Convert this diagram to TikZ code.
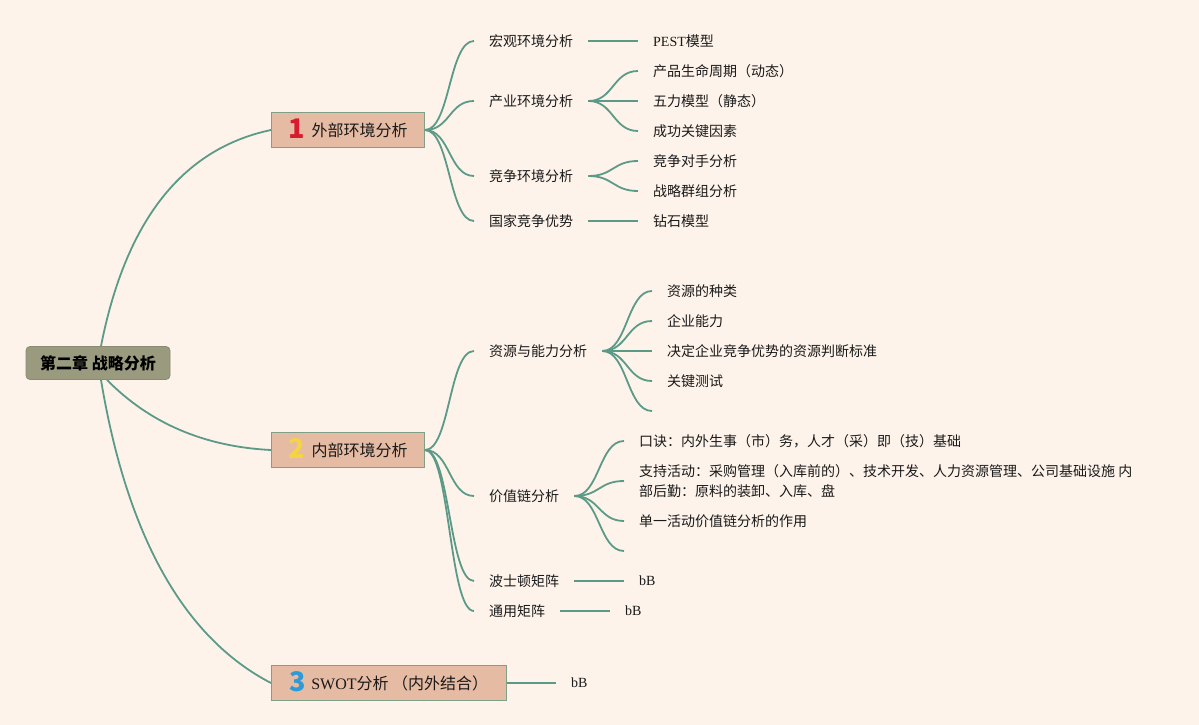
\documentclass[tikz,border=0pt]{standalone}
\usepackage{fontspec}
\setmainfont{Noto Sans CJK SC}
\newfontfamily\lat{Liberation Serif}
\definecolor{bgc}{HTML}{FDF3EA}
\definecolor{linec}{HTML}{5C9A88}
\definecolor{rootfill}{HTML}{999A7E}
\definecolor{rootbord}{HTML}{8A8B70}
\definecolor{brfill}{HTML}{E6BBA4}
\definecolor{brbord}{HTML}{7FA088}
\definecolor{txt}{HTML}{1A1A1A}
\definecolor{nred}{HTML}{D81B2E}
\definecolor{nyel}{HTML}{F5D442}
\definecolor{nblu}{HTML}{2D9BD8}
\newcommand{\bignum}[2]{\smash{\raisebox{-2pt}{\bfseries\fontsize{27}{27}\selectfont\color{#1}#2}}}
\begin{document}
\begin{tikzpicture}[x=1pt,y=-1pt,
  conn/.style={draw=linec, line width=1.8pt},
  leaf/.style={anchor=west, inner xsep=15pt, inner ysep=2pt, text=txt,
    font=\fontsize{14}{20}\selectfont},
  branch/.style={draw=brbord, fill=brfill, line width=1pt, anchor=west,
    minimum height=35pt, inner xsep=0pt, text=txt, font=\fontsize{16}{18}\selectfont},
  rootbox/.style={draw=rootbord, fill=rootfill, line width=0.8pt, rounded corners=4pt,
    minimum width=144pt, minimum height=33pt, inner xsep=0pt, text=black,
    font=\fontsize{16}{18}\selectfont\bfseries}]
\fill[bgc] (0,0) rectangle (1199,725);
\useasboundingbox (0,0) rectangle (1199,725);

% root and branches
\node[rootbox] (root) at (98,363) {第二章 战略分析};
\node[branch, minimum width=153pt] (b1) at (271,130)
  {\bignum{nred}{1}\hspace{7pt}外部环境分析\hspace{3pt}};
\node[branch, minimum width=153pt] (b2) at (271,450)
  {\bignum{nyel}{2}\hspace{7pt}内部环境分析\hspace{3pt}};
\node[branch, minimum width=235pt] (b3) at (271,683)
  {\bignum{nblu}{3}\hspace{5pt}{\lat SWOT}分析 （内外结合）\hspace{6pt}};

% branch 1 children
\node[leaf] (c11) at (474,41) {宏观环境分析};
\node[leaf] (c12) at (474,101) {产业环境分析};
\node[leaf] (c13) at (474,176) {竞争环境分析};
\node[leaf] (c14) at (474,221) {国家竞争优势};
\node[leaf] (g111) at (638,41) {{\lat PEST}模型};
\node[leaf] (g121) at (638,71) {产品生命周期（动态）};
\node[leaf] (g122) at (638,101) {五力模型（静态）};
\node[leaf] (g123) at (638,131) {成功关键因素};
\node[leaf] (g131) at (638,161) {竞争对手分析};
\node[leaf] (g132) at (638,191) {战略群组分析};
\node[leaf] (g141) at (638,221) {钻石模型};

% branch 2 children
\node[leaf] (c21) at (474,351) {资源与能力分析};
\node[leaf] (c22) at (474,496) {价值链分析};
\node[leaf] (c23) at (474,581) {波士顿矩阵};
\node[leaf] (c24) at (474,611) {通用矩阵};
\node[leaf] (g211) at (652,291) {资源的种类};
\node[leaf] (g212) at (652,321) {企业能力};
\node[leaf] (g213) at (652,351) {决定企业竞争优势的资源判断标准};
\node[leaf] (g214) at (652,381) {关键测试};
\coordinate (g215) at (652,411);
\node[leaf] (g221) at (624,441) {口诀：内外生事（市）务，人才（采）即（技）基础};
\node[leaf, align=left] (g222) at (624,481) {支持活动：采购管理（入库前的）、技术开发、人力资源管理、公司基础设施 内\\部后勤：原料的装卸、入库、盘};
\node[leaf] (g223) at (624,521) {单一活动价值链分析的作用};
\coordinate (g224) at (624,551);
\node[leaf] (g231) at (624,581) {\lat bB};
\node[leaf] (g241) at (610,611) {\lat bB};

% branch 3 child
\node[leaf] (g31) at (556,683) {\lat bB};

% root connectors
\draw[conn] ([xshift=3pt]root.north) .. controls (125.7,220.7) and (182.3,148.7) .. (b1.west);
\draw[conn] ([xshift=9pt]root.south) .. controls (149,422.7) and (203.7,446.7) .. (b2.west);
\draw[conn] ([xshift=3pt]root.south) .. controls (127,536) and (183.7,637.7) .. (b3.west);

% branch 1 connectors
\foreach \c in {c11,c12,c13,c14}
  \draw[conn] (b1.east) .. controls +(25,0) and +(-25,0) .. (\c.west);
\draw[conn] (c11.east) -- (g111.west);
\foreach \g in {g121,g122,g123}
  \draw[conn] (c12.east) .. controls +(25,0) and +(-25,0) .. (\g.west);
\foreach \g in {g131,g132}
  \draw[conn] (c13.east) .. controls +(25,0) and +(-25,0) .. (\g.west);
\draw[conn] (c14.east) -- (g141.west);

% branch 2 connectors
\foreach \c in {c21,c22,c23,c24}
  \draw[conn] (b2.east) .. controls +(25,0) and +(-25,0) .. (\c.west);
\foreach \g in {g211,g212,g213,g214}
  \draw[conn] (c21.east) .. controls +(25,0) and +(-25,0) .. (\g.west);
\draw[conn] (c21.east) .. controls +(25,0) and +(-25,0) .. (g215);
\foreach \g in {g221,g222,g223}
  \draw[conn] (c22.east) .. controls +(25,0) and +(-25,0) .. (\g.west);
\draw[conn] (c22.east) .. controls +(25,0) and +(-25,0) .. (g224);
\draw[conn] (c23.east) -- (g231.west);
\draw[conn] (c24.east) -- (g241.west);

% branch 3 connector
\draw[conn] (b3.east) -- (g31.west);
\end{tikzpicture}
\end{document}
